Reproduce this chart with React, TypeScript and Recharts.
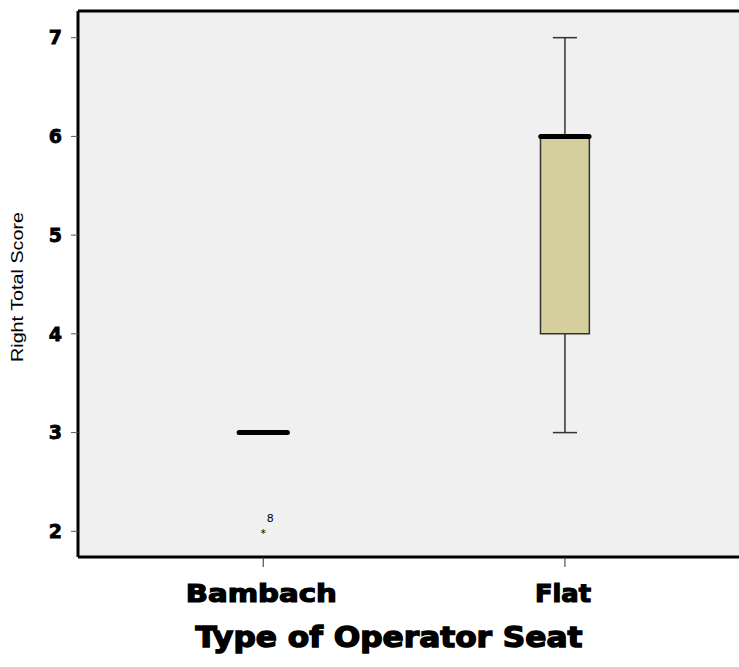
import { CartesianGrid, ComposedChart, Label, ReferenceArea, ReferenceLine, Scatter, XAxis, YAxis } from "recharts"

const categories = ["Bambach", "Flat"]
const positions = [1, 2]
const whiskerLow = [3, 3]
const quartile1 = [3, 4]
const medians = [3, 6]
const quartile3 = [3, 6]
const whiskerHigh = [3, 7]

const outlierPositions = [1]
const outlierValues = [2]
const outlierCases = ["8"]

const yTicks = [2, 3, 4, 5, 6, 7]

const outliers = outlierValues.map((v, i) => ({ x: outlierPositions[i], y: v, label: outlierCases[i] }))

const X_DOMAIN = [0.386, 2.577]
const Y_DOMAIN = [1.74, 7.27]
const BOX_HALF = 0.081
const MEDIAN_HALF = 0.08
const CAP_HALF = 0.04
const heavy = "'DejaVu Sans', sans-serif"
const labelWidths = [151, 56]

const XTick = (props: any) => {
  const { x, y, payload } = props
  const i = positions.indexOf(payload.value)
  return (
    <text x={x - 2} y={y + 35} textAnchor="middle" fontFamily={heavy} fontWeight="bold" fontSize={24} fill="#000"
      stroke="#000" strokeWidth={1.2} textLength={labelWidths[i]} lengthAdjust="spacingAndGlyphs">
      {categories[i]}
    </text>
  )
}

const OutlierMark = (props: any) => {
  const { cx, cy, payload } = props
  return (
    <g>
      <text x={cx} y={cy + 6} textAnchor="middle" fontSize={11} fontFamily={heavy} fill="#000">*</text>
      <text x={cx + 7} y={cy - 9} textAnchor="middle" fontSize={11} fontFamily={heavy} fill="#000">{payload.label}</text>
    </g>
  )
}

export default function App() {
  return (
    <div style={{ width: 739, height: 667, overflow: "hidden" }}>
      <style>{"body{margin:0;overflow:hidden}"}</style>
      <ComposedChart width={739} height={667} margin={{ top: 11, right: 0, bottom: 0, left: 0 }}>
        <CartesianGrid fill="#f0f0f0" horizontal={false} vertical={false} />
        <XAxis
          type="number"
          dataKey="x"
          domain={X_DOMAIN}
          allowDataOverflow
          ticks={positions}
          height={110}
          tickSize={10}
          tickMargin={0}
          tickLine={{ stroke: "#333" }}
          axisLine={{ stroke: "#000", strokeWidth: 3 }}
          tick={<XTick />}
        >
          <Label
            content={() => (
              <text x={389} y={647} textAnchor="middle" fontFamily={heavy} fontWeight="bold" fontSize={28} fill="#000"
                stroke="#000" strokeWidth={1.4} textLength={387} lengthAdjust="spacingAndGlyphs">
                Type of Operator Seat
              </text>
            )}
          />
        </XAxis>
        <YAxis
          type="number"
          dataKey="y"
          domain={Y_DOMAIN}
          allowDataOverflow
          ticks={yTicks}
          width={78}
          tickSize={7}
          tickMargin={9}
          tickLine={{ stroke: "#555" }}
          axisLine={{ stroke: "#000", strokeWidth: 3 }}
          tick={{ fill: "#000", stroke: "#000", strokeWidth: 0.8, fontSize: 19, fontWeight: "bold", fontFamily: heavy }}
        >
          <Label
            content={() => (
              <text x={23} y={287} transform="rotate(-90 23 287)" textAnchor="middle"
                fontFamily="'Liberation Sans Narrow', 'Liberation Sans', sans-serif" fontSize={17} fill="#000"
                textLength={150} lengthAdjust="spacingAndGlyphs">
                Right Total Score
              </text>
            )}
          />
        </YAxis>

        <ReferenceLine y={Y_DOMAIN[1]} stroke="#000" strokeWidth={3} ifOverflow="visible" />

        {positions.map((p, i) =>
          whiskerHigh[i] > quartile3[i] ? (
            <ReferenceLine key={"wu" + i} segment={[{ x: p, y: quartile3[i] }, { x: p, y: whiskerHigh[i] }]} stroke="#333" strokeWidth={1.5} />
          ) : null
        )}
        {positions.map((p, i) =>
          whiskerHigh[i] > quartile3[i] ? (
            <ReferenceLine key={"cu" + i} segment={[{ x: p - CAP_HALF, y: whiskerHigh[i] }, { x: p + CAP_HALF, y: whiskerHigh[i] }]} stroke="#333" strokeWidth={1.5} />
          ) : null
        )}
        {positions.map((p, i) =>
          whiskerLow[i] < quartile1[i] ? (
            <ReferenceLine key={"wl" + i} segment={[{ x: p, y: whiskerLow[i] }, { x: p, y: quartile1[i] }]} stroke="#333" strokeWidth={1.5} />
          ) : null
        )}
        {positions.map((p, i) =>
          whiskerLow[i] < quartile1[i] ? (
            <ReferenceLine key={"cl" + i} segment={[{ x: p - CAP_HALF, y: whiskerLow[i] }, { x: p + CAP_HALF, y: whiskerLow[i] }]} stroke="#333" strokeWidth={1.5} />
          ) : null
        )}
        {positions.map((p, i) =>
          quartile3[i] > quartile1[i] ? (
            <ReferenceArea key={"box" + i} x1={p - BOX_HALF} x2={p + BOX_HALF} y1={quartile1[i]} y2={quartile3[i]}
              fill="#d5cf9e" fillOpacity={1} stroke="#333" strokeWidth={1.5} />
          ) : null
        )}
        {positions.map((p, i) => (
          <ReferenceLine key={"med" + i} segment={[{ x: p - MEDIAN_HALF, y: medians[i] }, { x: p + MEDIAN_HALF, y: medians[i] }]}
            stroke="#000" strokeWidth={5} strokeLinecap="round" />
        ))}

        <Scatter data={outliers} dataKey="y" isAnimationActive={false} shape={<OutlierMark />} />
      </ComposedChart>
    </div>
  )
}
